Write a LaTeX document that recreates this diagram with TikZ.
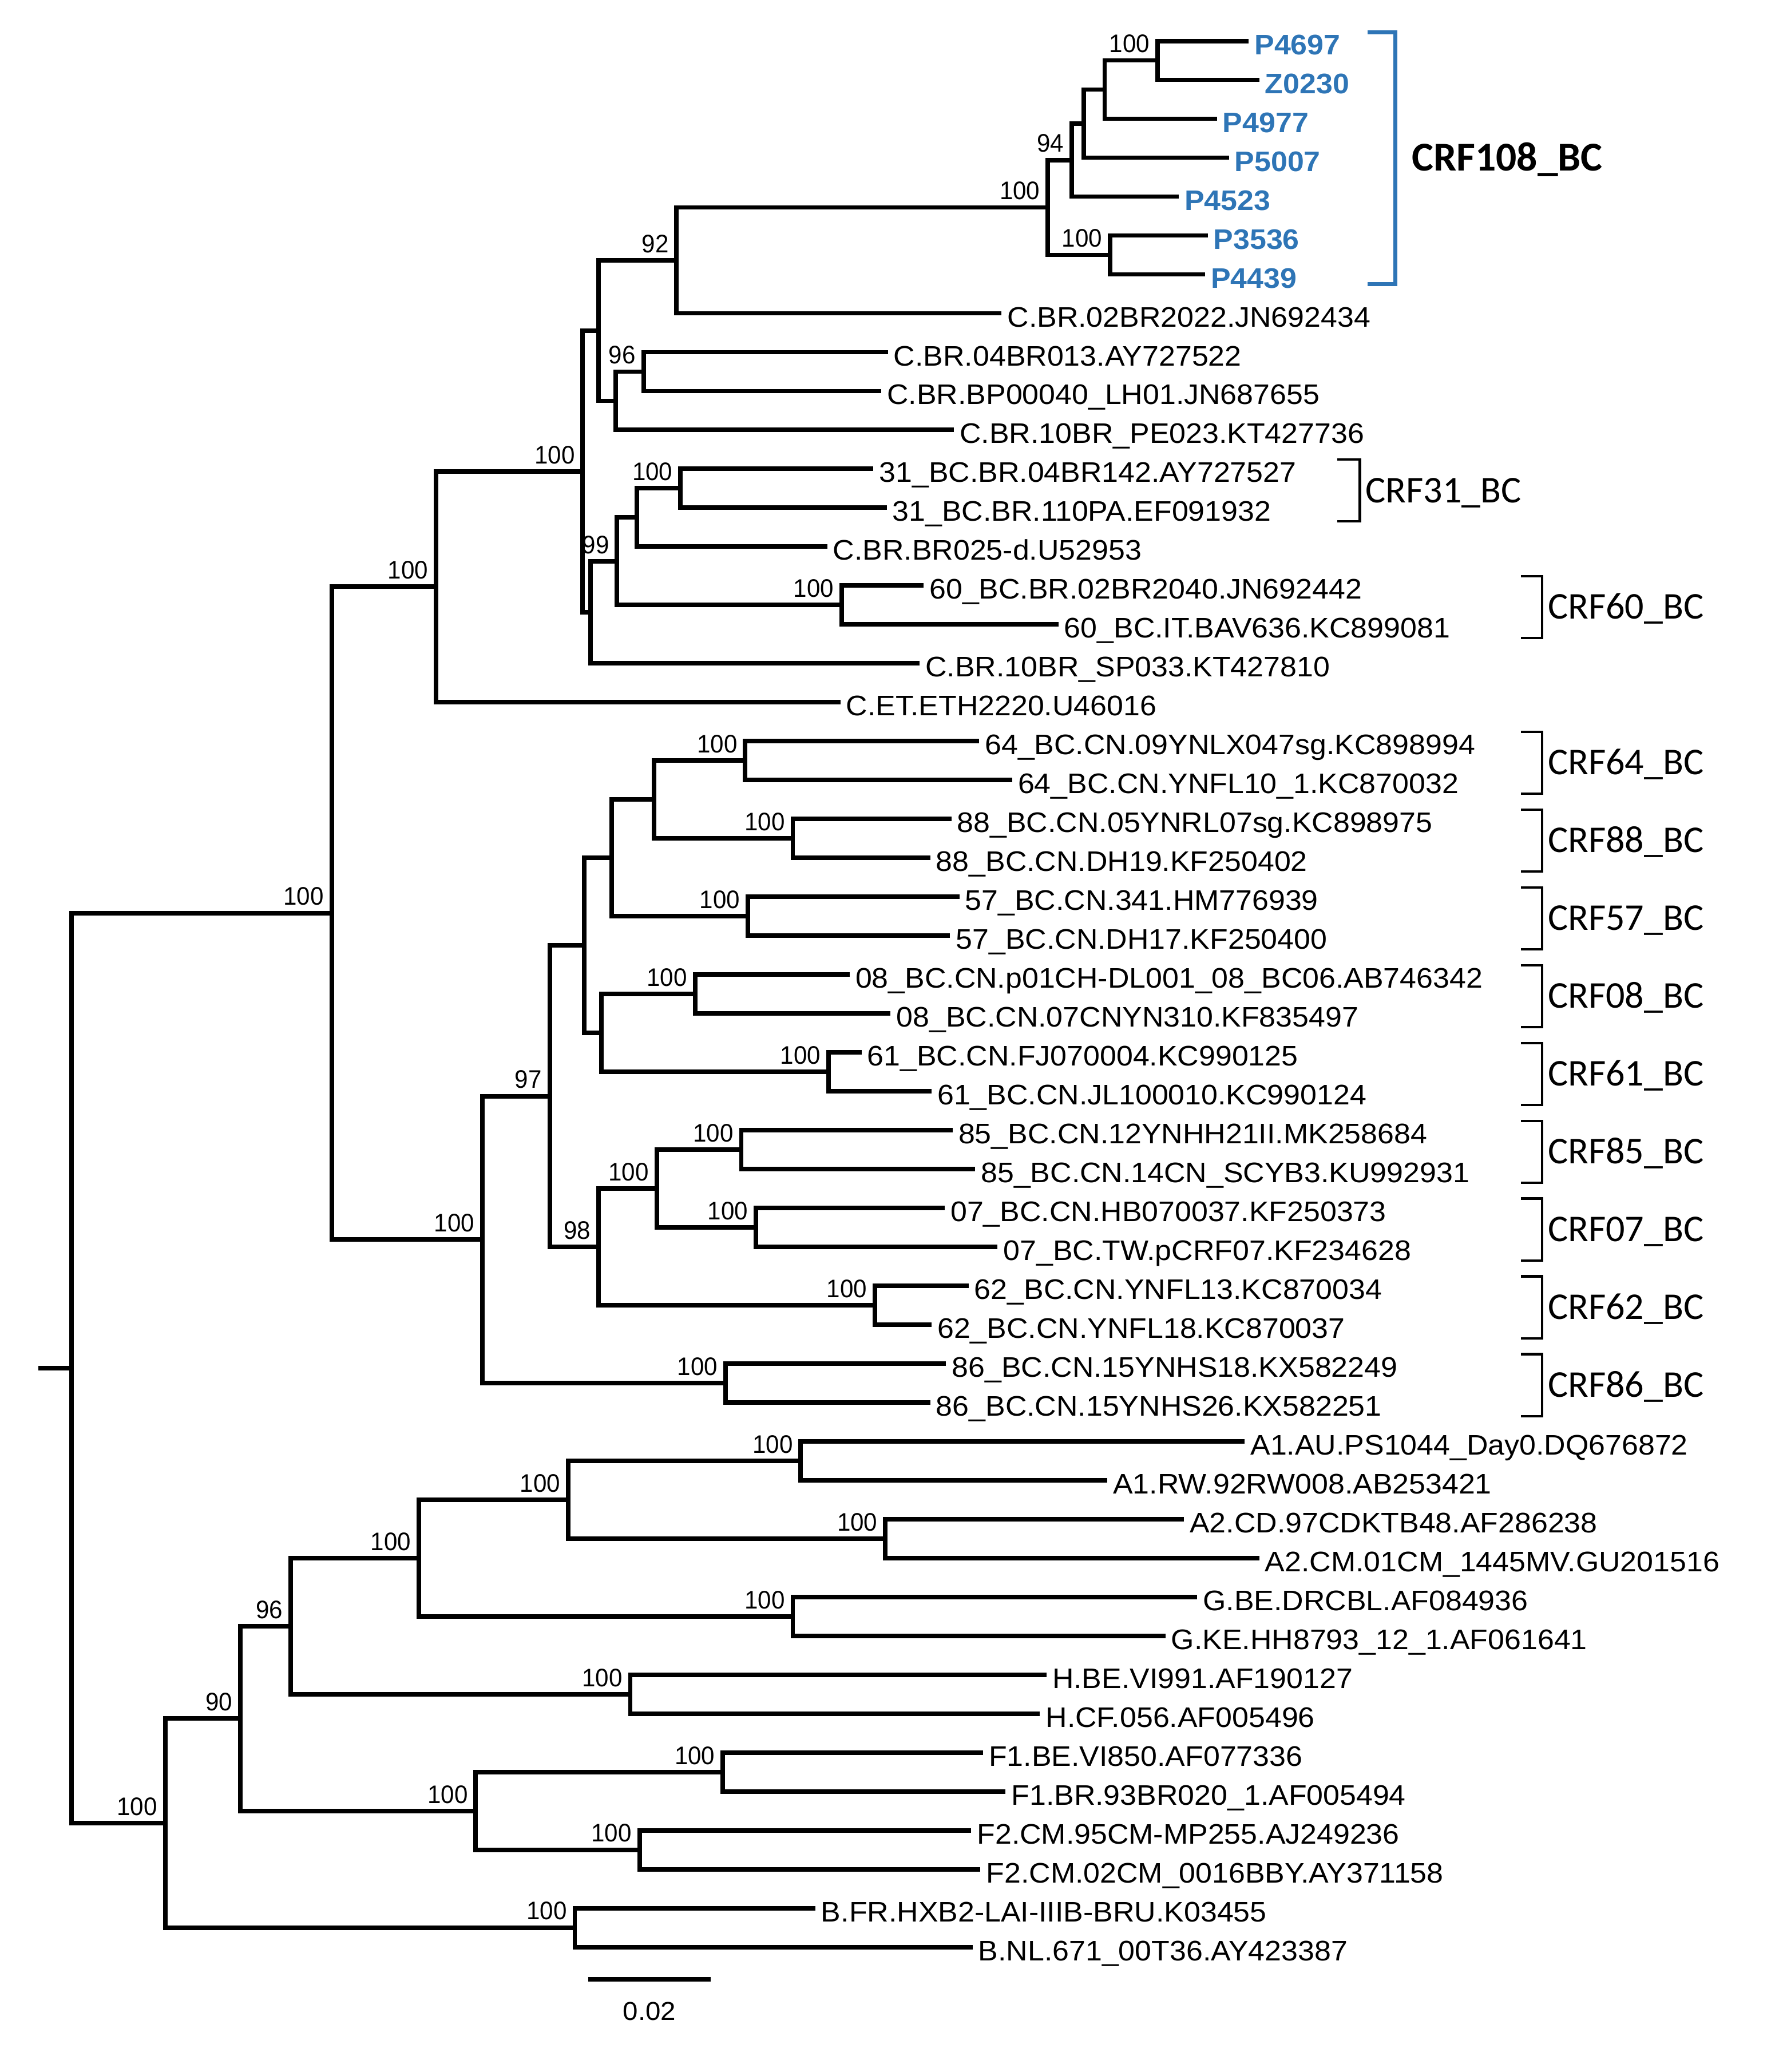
\documentclass[tikz,border=0pt]{standalone}
\usepackage{fontspec}
\setmainfont{Liberation Sans}
\newfontfamily\treefont{Liberation Sans}[FakeStretch=1.05]
\newfontfamily\bootfont{Liberation Sans}[FakeStretch=0.95]
\newfontfamily\cladefont{Carlito}
\definecolor{crfblue}{RGB}{46,117,182}

\tikzset{
  leaf/.style={anchor=west, inner xsep=2pt, inner ysep=0pt,
    text height=10.2pt, text depth=0pt, font=\treefont\fontsize{10.7}{12}\selectfont},
  newleaf/.style={leaf, text=crfblue, font=\treefont\fontsize{10.7}{12}\selectfont\bfseries},
  boot/.style={anchor=base east, inner sep=0pt, xshift=-2.8pt, yshift=3pt,
    font=\bootfont\fontsize{9.6}{11}\selectfont},
  branch/.style={line width=1.7pt},
  bracket/.style={line width=1pt},
  clade/.style={anchor=west, inner xsep=2pt, inner ysep=0pt, text height=9.2pt,
    text depth=0pt, font=\cladefont\fontsize{14.3}{16}\selectfont},
}

\begin{document}
\begin{tikzpicture}[x=0.5pt, y=-14.72pt]
  \useasboundingbox (0,-0.053) rectangle (1343,53.21);

  \coordinate (stub) at (29,35.12);
  \coordinate (root) at (54,35.12);
  \coordinate (bcall) at (251,23.42);
  \coordinate (outg) at (125,46.81);
  \coordinate (cbr) at (330,15.03);
  \coordinate (cbr2) at (441,12.07);
  \coordinate (cbr3) at (453,8.445);
  \coordinate (cbr4) at (512,6.64);
  \coordinate (crf108) at (793,5.28);
  \coordinate (crf108a) at (811,4.06);
  \coordinate (crf108b) at (820,3.125);
  \coordinate (crf108c) at (836,2.25);
  \coordinate (crf108d) at (876,1.5);
  \coordinate (crf108e) at (840,6.5);
  \coordinate (cbr5) at (466,10.25);
  \coordinate (cbr6) at (487,9.5);
  \coordinate (cbr7) at (447,15.69);
  \coordinate (cbr8) at (467,14.375);
  \coordinate (cbr9) at (482,13.25);
  \coordinate (crf31) at (515,12.5);
  \coordinate (crf60) at (637,15.5);
  \coordinate (bccn) at (365,31.81);
  \coordinate (bccn2) at (416,28.125);
  \coordinate (bccn3) at (442,24.25);
  \coordinate (bccn4) at (463,22);
  \coordinate (bccn5) at (495,20.5);
  \coordinate (crf64) at (564,19.5);
  \coordinate (crf88) at (600,21.5);
  \coordinate (crf57) at (566,23.5);
  \coordinate (bccn6) at (455,26.5);
  \coordinate (crf08) at (526,25.5);
  \coordinate (crf61) at (627,27.5);
  \coordinate (bccn7) at (453,32);
  \coordinate (bccn8) at (497,30.5);
  \coordinate (crf85) at (561,29.5);
  \coordinate (crf07) at (572,31.5);
  \coordinate (crf62) at (662,33.5);
  \coordinate (crf86) at (549,35.5);
  \coordinate (outg2) at (182,44.125);
  \coordinate (outg3) at (220,41.75);
  \coordinate (outg4) at (317,40);
  \coordinate (outg5) at (430,38.5);
  \coordinate (suba1) at (606,37.5);
  \coordinate (suba2) at (670,39.5);
  \coordinate (subg) at (600,41.5);
  \coordinate (subh) at (477,43.5);
  \coordinate (outg6) at (360,46.5);
  \coordinate (subf1) at (547,45.5);
  \coordinate (subf2) at (484,47.5);
  \coordinate (subb) at (435,49.5);

  \node[newleaf] (p4697) at (945,1) {P4697};
  \node[newleaf] (z0230) at (953,2) {Z0230};
  \node[newleaf] (p4977) at (921,3) {P4977};
  \node[newleaf] (p5007) at (930,4) {P5007};
  \node[newleaf] (p4523) at (892,5) {P4523};
  \node[newleaf] (p3536) at (914,6) {P3536};
  \node[newleaf] (p4439) at (912,7) {P4439};
  \node[leaf] (c2022) at (758,8) {C.BR.02BR2022.JN692434};
  \node[leaf] (c013) at (672,9) {C.BR.04BR013.AY727522};
  \node[leaf] (c040) at (667,10) {C.BR.BP00040\_LH01.JN687655};
  \node[leaf] (c023) at (722,11) {C.BR.10BR\_PE023.KT427736};
  \node[leaf] (r31a) at (661,12) {31\_BC.BR.04BR142.AY727527};
  \node[leaf] (r31b) at (671,13) {31\_BC.BR.110PA.EF091932};
  \node[leaf] (c025) at (626,14) {C.BR.BR025-d.U52953};
  \node[leaf] (r60a) at (699,15) {60\_BC.BR.02BR2040.JN692442};
  \node[leaf] (r60b) at (801,16) {60\_BC.IT.BAV636.KC899081};
  \node[leaf] (c033) at (696,17) {C.BR.10BR\_SP033.KT427810};
  \node[leaf] (ceth) at (636,18) {C.ET.ETH2220.U46016};
  \node[leaf] (r64a) at (741,19) {64\_BC.CN.09YNLX047sg.KC898994};
  \node[leaf] (r64b) at (766,20) {64\_BC.CN.YNFL10\_1.KC870032};
  \node[leaf] (r88a) at (720,21) {88\_BC.CN.05YNRL07sg.KC898975};
  \node[leaf] (r88b) at (704,22) {88\_BC.CN.DH19.KF250402};
  \node[leaf] (r57a) at (726,23) {57\_BC.CN.341.HM776939};
  \node[leaf] (r57b) at (719,24) {57\_BC.CN.DH17.KF250400};
  \node[leaf] (r08a) at (643,25) {08\_BC.CN.p01CH-DL001\_08\_BC06.AB746342};
  \node[leaf] (r08b) at (674,26) {08\_BC.CN.07CNYN310.KF835497};
  \node[leaf] (r61a) at (652,27) {61\_BC.CN.FJ070004.KC990125};
  \node[leaf] (r61b) at (705,28) {61\_BC.CN.JL100010.KC990124};
  \node[leaf] (r85a) at (721,29) {85\_BC.CN.12YNHH21II.MK258684};
  \node[leaf] (r85b) at (738,30) {85\_BC.CN.14CN\_SCYB3.KU992931};
  \node[leaf] (r07a) at (715,31) {07\_BC.CN.HB070037.KF250373};
  \node[leaf] (r07b) at (755,32) {07\_BC.TW.pCRF07.KF234628};
  \node[leaf] (r62a) at (733,33) {62\_BC.CN.YNFL13.KC870034};
  \node[leaf] (r62b) at (705,34) {62\_BC.CN.YNFL18.KC870037};
  \node[leaf] (r86a) at (716,35) {86\_BC.CN.15YNHS18.KX582249};
  \node[leaf] (r86b) at (704,36) {86\_BC.CN.15YNHS26.KX582251};
  \node[leaf] (a1a) at (942,37) {A1.AU.PS1044\_Day0.DQ676872};
  \node[leaf] (a1b) at (838,38) {A1.RW.92RW008.AB253421};
  \node[leaf] (a2a) at (896,39) {A2.CD.97CDKTB48.AF286238};
  \node[leaf] (a2b) at (953,40) {A2.CM.01CM\_1445MV.GU201516};
  \node[leaf] (ga) at (906,41) {G.BE.DRCBL.AF084936};
  \node[leaf] (gb) at (882,42) {G.KE.HH8793\_12\_1.AF061641};
  \node[leaf] (ha) at (792,43) {H.BE.VI991.AF190127};
  \node[leaf] (hb) at (787,44) {H.CF.056.AF005496};
  \node[leaf] (f1a) at (744,45) {F1.BE.VI850.AF077336};
  \node[leaf] (f1b) at (761,46) {F1.BR.93BR020\_1.AF005494};
  \node[leaf] (f2a) at (735,47) {F2.CM.95CM-MP255.AJ249236};
  \node[leaf] (f2b) at (742,48) {F2.CM.02CM\_0016BBY.AY371158};
  \node[leaf] (ba) at (617,49) {B.FR.HXB2-LAI-IIIB-BRU.K03455};
  \node[leaf] (bb) at (736,50) {B.NL.671\_00T36.AY423387};

  \begin{scope}[branch]
    \draw (stub) -- (root);
    \draw (root) |- (bcall);
    \draw (root) |- (outg);
    \draw (bcall) |- (cbr);
    \draw (bcall) |- (bccn);
    \draw (cbr) |- (cbr2);
    \draw (cbr) |- (ceth.west);
    \draw (cbr2) |- (cbr3);
    \draw (cbr2) |- (cbr7);
    \draw (cbr3) |- (cbr4);
    \draw (cbr3) |- (cbr5);
    \draw (cbr4) |- (crf108);
    \draw (cbr4) |- (c2022.west);
    \draw (crf108) |- (crf108a);
    \draw (crf108) |- (crf108e);
    \draw (crf108a) |- (crf108b);
    \draw (crf108a) |- (p4523.west);
    \draw (crf108b) |- (crf108c);
    \draw (crf108b) |- (p5007.west);
    \draw (crf108c) |- (crf108d);
    \draw (crf108c) |- (p4977.west);
    \draw (crf108d) |- (p4697.west);
    \draw (crf108d) |- (z0230.west);
    \draw (crf108e) |- (p3536.west);
    \draw (crf108e) |- (p4439.west);
    \draw (cbr5) |- (cbr6);
    \draw (cbr5) |- (c023.west);
    \draw (cbr6) |- (c013.west);
    \draw (cbr6) |- (c040.west);
    \draw (cbr7) |- (cbr8);
    \draw (cbr7) |- (c033.west);
    \draw (cbr8) |- (cbr9);
    \draw (cbr8) |- (crf60);
    \draw (cbr9) |- (crf31);
    \draw (cbr9) |- (c025.west);
    \draw (crf31) |- (r31a.west);
    \draw (crf31) |- (r31b.west);
    \draw (crf60) |- (r60a.west);
    \draw (crf60) |- (r60b.west);
    \draw (bccn) |- (bccn2);
    \draw (bccn) |- (crf86);
    \draw (bccn2) |- (bccn3);
    \draw (bccn2) |- (bccn7);
    \draw (bccn3) |- (bccn4);
    \draw (bccn3) |- (bccn6);
    \draw (bccn4) |- (bccn5);
    \draw (bccn4) |- (crf57);
    \draw (bccn5) |- (crf64);
    \draw (bccn5) |- (crf88);
    \draw (crf64) |- (r64a.west);
    \draw (crf64) |- (r64b.west);
    \draw (crf88) |- (r88a.west);
    \draw (crf88) |- (r88b.west);
    \draw (crf57) |- (r57a.west);
    \draw (crf57) |- (r57b.west);
    \draw (bccn6) |- (crf08);
    \draw (bccn6) |- (crf61);
    \draw (crf08) |- (r08a.west);
    \draw (crf08) |- (r08b.west);
    \draw (crf61) |- (r61a.west);
    \draw (crf61) |- (r61b.west);
    \draw (bccn7) |- (bccn8);
    \draw (bccn7) |- (crf62);
    \draw (bccn8) |- (crf85);
    \draw (bccn8) |- (crf07);
    \draw (crf85) |- (r85a.west);
    \draw (crf85) |- (r85b.west);
    \draw (crf07) |- (r07a.west);
    \draw (crf07) |- (r07b.west);
    \draw (crf62) |- (r62a.west);
    \draw (crf62) |- (r62b.west);
    \draw (crf86) |- (r86a.west);
    \draw (crf86) |- (r86b.west);
    \draw (outg) |- (outg2);
    \draw (outg) |- (subb);
    \draw (outg2) |- (outg3);
    \draw (outg2) |- (outg6);
    \draw (outg3) |- (outg4);
    \draw (outg3) |- (subh);
    \draw (outg4) |- (outg5);
    \draw (outg4) |- (subg);
    \draw (outg5) |- (suba1);
    \draw (outg5) |- (suba2);
    \draw (suba1) |- (a1a.west);
    \draw (suba1) |- (a1b.west);
    \draw (suba2) |- (a2a.west);
    \draw (suba2) |- (a2b.west);
    \draw (subg) |- (ga.west);
    \draw (subg) |- (gb.west);
    \draw (subh) |- (ha.west);
    \draw (subh) |- (hb.west);
    \draw (outg6) |- (subf1);
    \draw (outg6) |- (subf2);
    \draw (subf1) |- (f1a.west);
    \draw (subf1) |- (f1b.west);
    \draw (subf2) |- (f2a.west);
    \draw (subf2) |- (f2b.west);
    \draw (subb) |- (ba.west);
    \draw (subb) |- (bb.west);
  \end{scope}

  \node[boot] (bs108d) at (crf108d) {100};
  \node[boot] (bs108) at (crf108) {100};
  \node[boot] (bs108a) at (crf108a) {94};
  \node[boot] (bs108e) at (crf108e) {100};
  \node[boot] (bscbr4) at (cbr4) {92};
  \node[boot] (bscbr6) at (cbr6) {96};
  \node[boot] (bscbr2) at (cbr2) {100};
  \node[boot] (bscbr) at (cbr) {100};
  \node[boot] (bsbcall) at (bcall) {100};
  \node[boot] (bs31) at (crf31) {100};
  \node[boot] (bscbr8) at (cbr8) {99};
  \node[boot] (bs60) at (crf60) {100};
  \node[boot] (bs64) at (crf64) {100};
  \node[boot] (bs88) at (crf88) {100};
  \node[boot] (bs57) at (crf57) {100};
  \node[boot] (bs08) at (crf08) {100};
  \node[boot] (bs61) at (crf61) {100};
  \node[boot] (bs85) at (crf85) {100};
  \node[boot] (bs07) at (crf07) {100};
  \node[boot] (bsbccn8) at (bccn8) {100};
  \node[boot] (bsbccn7) at (bccn7) {98};
  \node[boot] (bsbccn2) at (bccn2) {97};
  \node[boot] (bsbccn) at (bccn) {100};
  \node[boot] (bs62) at (crf62) {100};
  \node[boot] (bs86) at (crf86) {100};
  \node[boot] (bsa1) at (suba1) {100};
  \node[boot] (bsa2) at (suba2) {100};
  \node[boot] (bsoutg5) at (outg5) {100};
  \node[boot] (bsoutg4) at (outg4) {100};
  \node[boot] (bsg) at (subg) {100};
  \node[boot] (bsoutg3) at (outg3) {96};
  \node[boot] (bsh) at (subh) {100};
  \node[boot] (bsoutg2) at (outg2) {90};
  \node[boot] (bsf1) at (subf1) {100};
  \node[boot] (bsf2) at (subf2) {100};
  \node[boot] (bsoutg6) at (outg6) {100};
  \node[boot] (bsoutg) at (outg) {100};
  \node[boot] (bsb) at (subb) {100};

  \draw[line width=1.5pt, crfblue] (1035,0.78) -| (1056,7.25) -- (1035,7.25);
  \node[clade, text height=10pt, xshift=4pt,
    font=\cladefont\fontsize{15.5}{18}\selectfont\bfseries] (lab108) at (1056,4) {CRF108\_BC};

  \draw[bracket] (1012,11.76) -| (1029,13.35) -- (1012,13.35);
  \node[clade] (lab31) at (1029,12.55) {CRF31\_BC};
  \foreach \r/\nm in {15/60,19/64,21/88,23/57,25/08,27/61,29/85,31/07,33/62,35/86}{
    \draw[bracket] (1151,\r-0.24) -| (1167,\r+1.35) -- (1151,\r+1.35);
    \node[clade] (lab\nm) at (1167,\r+0.55) {CRF\nm\_BC};
  }

  \coordinate (bar0) at (445,50.83);
  \coordinate (bar1) at (538,50.83);
  \draw[branch] (bar0) -- (bar1);
  \node[font=\treefont\fontsize{9.8}{11}\selectfont] (barlab) at (491.5,51.65) {0.02};
\end{tikzpicture}
\end{document}
